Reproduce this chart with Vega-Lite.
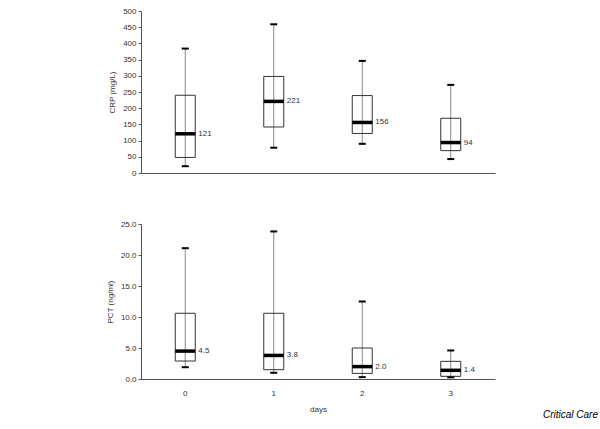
{
  "$schema": "https://vega.github.io/schema/vega-lite/v6.json",
  "background": "white",
  "padding": {"left": 106, "top": 7, "right": 5, "bottom": 5},
  "datasets": {
    "crp": [
      {"day": "0", "min": 21, "q1": 48, "median": 121, "q3": 240, "max": 384},
      {"day": "1", "min": 78, "q1": 142, "median": 221, "q3": 298, "max": 459},
      {"day": "2", "min": 90, "q1": 122, "median": 156, "q3": 239, "max": 346},
      {"day": "3", "min": 43, "q1": 69, "median": 94, "q3": 169, "max": 272}
    ],
    "pct": [
      {"day": "0", "min": 1.9, "q1": 2.9, "median": 4.5, "q3": 10.6, "max": 21.1},
      {"day": "1", "min": 1.0, "q1": 1.5, "median": 3.8, "q3": 10.6, "max": 23.8},
      {"day": "2", "min": 0.3, "q1": 0.9, "median": 2.0, "q3": 5.0, "max": 12.5},
      {"day": "3", "min": 0.27, "q1": 0.43, "median": 1.4, "q3": 2.85, "max": 4.6}
    ]
  },
  "config": {
    "view": {"stroke": null},
    "font": "Liberation Sans",
    "axis": {
      "labelFont": "Liberation Sans", "labelFontSize": 8, "labelColor": "#333", "labelOverlap": false,
      "titleFont": "Liberation Sans", "titleFontSize": 8, "titleFontWeight": "normal", "titleColor": "#333",
      "domainColor": "#555", "tickColor": "#555", "grid": false
    }
  },
  "spacing": 43,
  "title": {"text": "Critical Care", "orient": "bottom", "anchor": "end", "fontStyle": "italic", "fontWeight": "normal", "fontSize": 10, "font": "Liberation Sans", "color": "#000", "dx": 103, "offset": -3},
  "vconcat": [
    {
      "width": 354, "height": 162,
      "data": {"name": "crp"},
      "encoding": {
        "x": {"field": "day", "type": "nominal", "scale": {"paddingInner": 0, "paddingOuter": 0},
              "axis": {"labels": false, "ticks": false, "title": null}}
      },
      "layer": [
        {"mark": {"type": "rule", "color": "#888", "strokeWidth": 1},
         "encoding": {
           "y": {"field": "min", "type": "quantitative", "scale": {"domain": [0, 500], "nice": false},
                 "axis": {"values": [0,50,100,150,200,250,300,350,400,450,500], "title": "CRP (mg/L)", "tickSize": 3, "labelPadding": 2, "titlePadding": 6}},
           "y2": {"field": "max"}}},
        {"mark": {"type": "bar", "size": 20, "fill": "transparent", "stroke": "#333", "strokeWidth": 1},
         "encoding": {"y": {"field": "q1", "type": "quantitative", "axis": {"values": [0,50,100,150,200,250,300,350,400,450,500], "title": "CRP (mg/L)", "tickSize": 3, "labelPadding": 2, "titlePadding": 6}}, "y2": {"field": "q3"}}},
        {"mark": {"type": "tick", "size": 7, "thickness": 2, "color": "#000", "opacity": 1},
         "encoding": {"y": {"field": "min", "type": "quantitative", "axis": {"values": [0,50,100,150,200,250,300,350,400,450,500], "title": "CRP (mg/L)", "tickSize": 3, "labelPadding": 2, "titlePadding": 6}}}},
        {"mark": {"type": "tick", "size": 7, "thickness": 2, "color": "#000", "opacity": 1},
         "encoding": {"y": {"field": "max", "type": "quantitative", "axis": {"values": [0,50,100,150,200,250,300,350,400,450,500], "title": "CRP (mg/L)", "tickSize": 3, "labelPadding": 2, "titlePadding": 6}}}},
        {"mark": {"type": "tick", "size": 20, "thickness": 3.5, "color": "#000", "opacity": 1},
         "encoding": {"y": {"field": "median", "type": "quantitative", "axis": {"values": [0,50,100,150,200,250,300,350,400,450,500], "title": "CRP (mg/L)", "tickSize": 3, "labelPadding": 2, "titlePadding": 6}}}},
        {"mark": {"type": "text", "align": "left", "dx": 13, "fontSize": 8, "fill": "#333", "font": "Liberation Sans"},
         "encoding": {"y": {"field": "median", "type": "quantitative", "axis": {"values": [0,50,100,150,200,250,300,350,400,450,500], "title": "CRP (mg/L)", "tickSize": 3, "labelPadding": 2, "titlePadding": 6}}, "text": {"field": "median", "type": "quantitative", "format": "d"}}}
      ]
    },
    {
      "width": 354, "height": 155,
      "data": {"name": "pct"},
      "encoding": {
        "x": {"field": "day", "type": "nominal", "scale": {"paddingInner": 0, "paddingOuter": 0},
              "axis": {"labelAngle": 0, "ticks": false, "labelPadding": 10, "title": "days", "titlePadding": 8}}
      },
      "layer": [
        {"mark": {"type": "rule", "color": "#888", "strokeWidth": 1},
         "encoding": {
           "y": {"field": "min", "type": "quantitative", "scale": {"domain": [0, 25], "nice": false},
                 "axis": {"values": [0,5,10,15,20,25], "format": ".1f", "title": "PCT (ng/ml)", "tickSize": 3, "labelPadding": 2, "titlePadding": 6}},
           "y2": {"field": "max"}}},
        {"mark": {"type": "bar", "size": 20, "fill": "transparent", "stroke": "#333", "strokeWidth": 1},
         "encoding": {"y": {"field": "q1", "type": "quantitative", "axis": {"values": [0,5,10,15,20,25], "format": ".1f", "title": "PCT (ng/ml)", "tickSize": 3, "labelPadding": 2, "titlePadding": 6}}, "y2": {"field": "q3"}}},
        {"mark": {"type": "tick", "size": 7, "thickness": 2, "color": "#000", "opacity": 1},
         "encoding": {"y": {"field": "min", "type": "quantitative", "axis": {"values": [0,5,10,15,20,25], "format": ".1f", "title": "PCT (ng/ml)", "tickSize": 3, "labelPadding": 2, "titlePadding": 6}}}},
        {"mark": {"type": "tick", "size": 7, "thickness": 2, "color": "#000", "opacity": 1},
         "encoding": {"y": {"field": "max", "type": "quantitative", "axis": {"values": [0,5,10,15,20,25], "format": ".1f", "title": "PCT (ng/ml)", "tickSize": 3, "labelPadding": 2, "titlePadding": 6}}}},
        {"mark": {"type": "tick", "size": 20, "thickness": 3.5, "color": "#000", "opacity": 1},
         "encoding": {"y": {"field": "median", "type": "quantitative", "axis": {"values": [0,5,10,15,20,25], "format": ".1f", "title": "PCT (ng/ml)", "tickSize": 3, "labelPadding": 2, "titlePadding": 6}}}},
        {"mark": {"type": "text", "align": "left", "dx": 13, "fontSize": 8, "fill": "#333", "font": "Liberation Sans"},
         "encoding": {"y": {"field": "median", "type": "quantitative", "axis": {"values": [0,5,10,15,20,25], "format": ".1f", "title": "PCT (ng/ml)", "tickSize": 3, "labelPadding": 2, "titlePadding": 6}}, "text": {"field": "median", "type": "quantitative", "format": ".1f"}}}
      ]
    }
  ]
}
